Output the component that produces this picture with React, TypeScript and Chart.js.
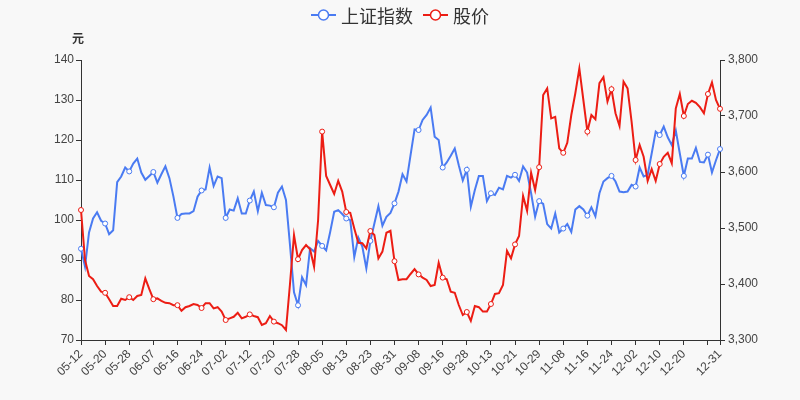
import React, { useEffect, useRef } from "react";
import { Chart, registerables } from "chart.js";

Chart.register(...registerables);

const dates: string[] = [
  "05-12","05-13","05-14","05-17","05-18","05-19","05-20","05-21","05-24","05-25","05-26","05-27","05-28","05-31",
  "06-01","06-02","06-03","06-04","06-07","06-08","06-09","06-10","06-11","06-15","06-16","06-17","06-18","06-21","06-22","06-23","06-24","06-25","06-28","06-29","06-30",
  "07-01","07-02","07-05","07-06","07-07","07-08","07-09","07-12","07-13","07-14","07-15","07-16","07-19","07-20","07-21","07-22","07-23","07-26","07-27","07-28","07-29","07-30",
  "08-02","08-03","08-04","08-05","08-06","08-09","08-10","08-11","08-12","08-13","08-16","08-17","08-18","08-19","08-20","08-23","08-24","08-25","08-26","08-27","08-30","08-31",
  "09-01","09-02","09-03","09-06","09-07","09-08","09-09","09-10","09-13","09-14","09-15","09-16","09-17","09-22","09-23","09-24","09-27","09-28","09-29","09-30",
  "10-08","10-11","10-12","10-13","10-14","10-15","10-18","10-19","10-20","10-21","10-22","10-25","10-26","10-27","10-28","10-29",
  "11-01","11-02","11-03","11-04","11-05","11-08","11-09","11-10","11-11","11-12","11-15","11-16","11-17","11-18","11-19","11-22","11-23","11-24","11-25","11-26","11-29","11-30",
  "12-01","12-02","12-03","12-06","12-07","12-08","12-09","12-10","12-13","12-14","12-15","12-16","12-17","12-20","12-21","12-22","12-23","12-24","12-27","12-28","12-29","12-30","12-31",
];

// 上证指数 (right axis)
const indexValues: number[] = [
  3463,3431,3492,3517,3528,3513,3508,3489,3496,3582,3592,3608,3601,3615,3624,3599,3586,3593,3600,3581,
  3596,3610,3589,3556,3518,3525,3526,3526,3530,3556,3567,3569,3608,3575,3592,3589,3518,3533,3531,3553,
  3526,3526,3549,3565,3530,3563,3541,3540,3537,3563,3574,3550,3470,3385,3362,3412,3398,3464,3458,3477,
  3468,3460,3493,3529,3532,3525,3517,3514,3448,3483,3467,3428,3477,3508,3539,3504,3520,3527,3544,3565,
  3596,3583,3630,3676,3675,3693,3702,3715,3663,3657,3608,3617,3629,3642,3612,3585,3604,3538,3568,3593,
  3593,3548,3562,3559,3572,3569,3593,3590,3595,3584,3610,3599,3562,3520,3548,3543,3507,3499,3526,3492,
  3499,3507,3493,3533,3539,3533,3522,3537,3521,3562,3583,3589,3593,3583,3565,3564,3565,3577,3574,3608,
  3592,3595,3633,3672,3666,3681,3662,3648,3674,3633,3593,3624,3624,3643,3618,3617,3631,3599,3621,3641,
];

// 股价 (left axis, 元)
const priceValues: number[] = [
  102.5,90.0,86.0,85.2,83.5,82.1,81.8,80.2,78.5,78.5,80.3,80.0,80.7,80.0,81.0,81.25,85.4,82.7,80.2,80.4,
  79.8,79.3,79.2,78.7,78.7,77.3,78.2,78.5,79.0,78.75,78.0,79.2,79.2,77.9,78.2,77.1,75.0,75.4,75.8,76.8,
  75.4,75.8,76.4,76.0,75.7,73.75,74.2,76.0,74.6,74.2,73.7,72.5,84.0,96.2,90.2,92.5,93.75,92.7,88.3,100.0,
  122.1,111.0,108.75,106.5,109.8,107.1,102.0,101.8,97.9,94.3,94.2,92.9,97.25,96.25,90.4,92.1,96.8,97.3,89.7,85.0,
  85.2,85.2,86.5,87.7,86.4,85.6,85.0,83.5,83.75,89.3,85.6,85.2,82.1,81.8,78.75,76.25,77.0,74.8,78.5,78.2,
  77.1,77.1,79.0,81.5,81.7,83.75,92.3,90.4,93.9,96.0,106.0,102.3,111.8,107.5,113.2,131.25,132.9,125.4,125.8,117.9,
  116.8,119.3,126.25,131.7,137.9,130.0,122.1,126.25,125.2,134.2,135.7,129.6,132.7,126.7,123.5,134.6,132.9,124.6,115.0,118.75,
  115.8,109.75,112.7,109.75,114.0,115.8,116.8,114.2,127.9,131.5,126.0,129.0,129.8,129.3,128.2,126.7,131.5,134.4,130.0,127.8,
];

const seriesNames = ["上证指数", "股价"];
const seriesColors = ["#4a7bf2", "#ec1d14"];
const unitLabel = "元";

const LABEL_STEP = 6;
const FONT = '"Liberation Sans", Arial, sans-serif';
const CJK = '"Noto Sans CJK SC", "Noto Sans", sans-serif';

const isMarked = (i: number) => i % LABEL_STEP === 0 || i === dates.length - 1;

const decor = {
  id: "decor",
  beforeDraw(chart: any) {
    const { ctx, width, height } = chart;
    ctx.save();
    ctx.fillStyle = "#f8f8f8";
    ctx.fillRect(0, 0, width, height);
    ctx.restore();
  },
  afterDraw(chart: any) {
    const { ctx, chartArea } = chart;
    ctx.save();
    // axis name
    ctx.font = `bold 12px ${CJK}`;
    ctx.fillStyle = "#333";
    ctx.textAlign = "center";
    ctx.textBaseline = "middle";
    ctx.fillText(unitLabel, chartArea.left - 3, chartArea.top - 22);

    // legend
    ctx.font = `18px ${CJK}`;
    const iconW = 25;
    const gap = 5;
    const itemGap = 10;
    const widths = seriesNames.map((n) => ctx.measureText(n).width);
    const total = widths.reduce((a, w) => a + iconW + gap + w, 0) + itemGap * (seriesNames.length - 1);
    let x = chart.width / 2 - total / 2;
    const y = 15;
    seriesNames.forEach((name, k) => {
      const c = seriesColors[k];
      ctx.strokeStyle = c;
      ctx.lineWidth = 2;
      ctx.beginPath();
      ctx.moveTo(x, y);
      ctx.lineTo(x + iconW, y);
      ctx.stroke();
      ctx.beginPath();
      ctx.arc(x + iconW / 2, y, 5, 0, Math.PI * 2);
      ctx.fillStyle = "#fff";
      ctx.fill();
      ctx.lineWidth = 1.5;
      ctx.stroke();
      ctx.fillStyle = "#333";
      ctx.textAlign = "left";
      ctx.textBaseline = "middle";
      ctx.fillText(name, x + iconW + gap, y + 1);
      x += iconW + gap + widths[k] + itemGap;
    });
    ctx.restore();
  },
};

export default function App() {
  const ref = useRef<HTMLCanvasElement | null>(null);

  useEffect(() => {
    document.body.style.margin = "0";
    document.body.style.background = "#f8f8f8";
    const canvas = ref.current;
    if (!canvas) return;

    const pointRadius = (c: any) => (isMarked(c.dataIndex) ? 2.5 : 0);

    const chart = new Chart(canvas, {
      type: "line",
      data: {
        labels: dates,
        datasets: [
          {
            label: seriesNames[1],
            data: priceValues,
            yAxisID: "y",
            borderColor: seriesColors[1],
            backgroundColor: seriesColors[1],
            borderWidth: 2,
            tension: 0,
            pointRadius,
            pointHoverRadius: pointRadius,
            pointBackgroundColor: "#fff",
            pointBorderColor: seriesColors[1],
            pointBorderWidth: 1,
          },
          {
            label: seriesNames[0],
            data: indexValues,
            yAxisID: "y1",
            borderColor: seriesColors[0],
            backgroundColor: seriesColors[0],
            borderWidth: 2,
            tension: 0,
            pointRadius,
            pointHoverRadius: pointRadius,
            pointBackgroundColor: "#fff",
            pointBorderColor: seriesColors[0],
            pointBorderWidth: 1,
          },
        ],
      },
      options: {
        responsive: false,
        animation: false,
        events: [],
        layout: { padding: { top: 60, left: 0, right: 0, bottom: 0 } },
        plugins: {
          legend: { display: false },
          tooltip: { enabled: false },
        },
        scales: {
          x: {
            type: "category",
            offset: false,
            grid: {
              drawOnChartArea: false,
              drawTicks: true,
              tickLength: 5,
              color: (c: any) => (c.index % LABEL_STEP === 0 || c.index === dates.length - 1 ? "#333" : "rgba(0,0,0,0)"),
            },
            border: { display: true, color: "#333", width: 1 },
            ticks: {
              autoSkip: false,
              minRotation: 45,
              maxRotation: 45,
              padding: 2,
              color: "#444",
              font: { size: 12, family: FONT },
              callback: (_v: any, i: number) =>
                i === dates.length - 1 || (i % LABEL_STEP === 0 && i < dates.length - 4) ? dates[i] : "",
            },
            afterFit: (s: any) => {
              s.height = 60;
            },
          },
          y: {
            position: "left",
            min: 70,
            max: 140,
            grid: { drawOnChartArea: false, drawTicks: true, tickLength: 5, color: "#333" },
            border: { display: true, color: "#333", width: 1 },
            ticks: { stepSize: 10, padding: 2, color: "#444", font: { size: 12, family: FONT } },
            afterFit: (s: any) => {
              s.width = 81;
            },
          },
          y1: {
            position: "right",
            min: 3300,
            max: 3800,
            grid: { drawOnChartArea: false, drawTicks: true, tickLength: 5, color: "#333" },
            border: { display: true, color: "#333", width: 1 },
            ticks: { stepSize: 100, padding: 3, color: "#444", font: { size: 12, family: FONT } },
            afterFit: (s: any) => {
              s.width = 80;
            },
          },
        },
      },
      plugins: [decor],
    });

    return () => chart.destroy();
  }, []);

  return (
    <div style={{ width: 800, height: 400 }}>
      <canvas ref={ref} width={800} height={400} style={{ display: "block" }} />
    </div>
  );
}
